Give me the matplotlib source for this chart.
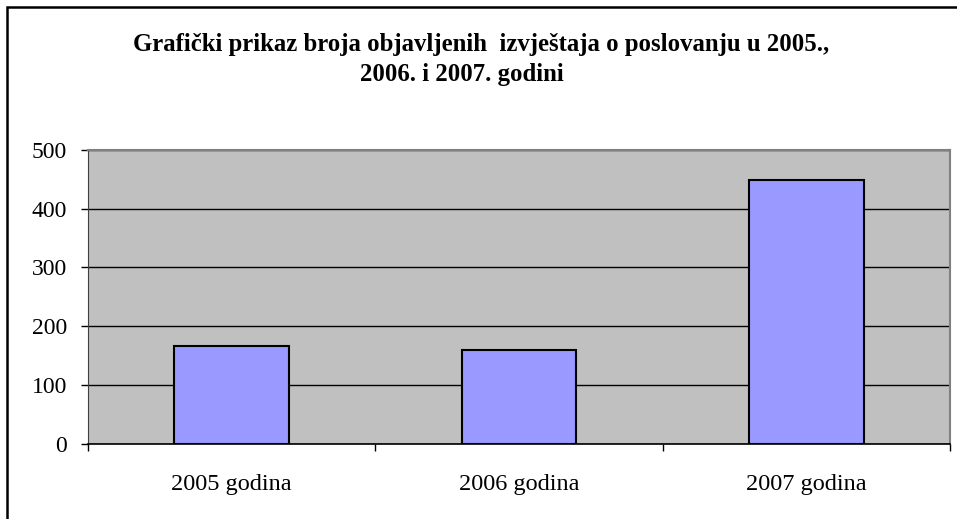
import numpy as np
import matplotlib.pyplot as plt
from matplotlib.patches import Rectangle

# values
categories = ['2005 godina', '2006 godina', '2007 godina']
reports = [166, 160, 449]
y_ticks = [0, 100, 200, 300, 400, 500]

plt.rcParams['font.family'] = ['Liberation Serif', 'DejaVu Serif']

W, H = 957, 519
fig = plt.figure(figsize=(W / 100, H / 100), dpi=100)

# outer chart border (right and bottom are cut off in the reference)
fig.patches.append(Rectangle((7.5 / W, -0.1), 1.2, 1 - 7.5 / H + 0.1,
                             transform=fig.transFigure, fill=False,
                             edgecolor='black', linewidth=1.8))

ax = fig.add_axes([88 / W, 1 - 443.7 / H, (950 - 88) / W, (443.7 - 150) / H])
ax.set_facecolor('#C0C0C0')

x = np.arange(len(categories))
ax.bar(x, reports, width=0.4, color='#9999FF', edgecolor='black',
       linewidth=1.5, zorder=3)

ax.set_xlim(-0.5, 2.5)
ax.set_ylim(0, 500)
ax.set_yticks(y_ticks)
ax.yaxis.grid(True, color='black', linewidth=1.0, zorder=1)
ax.set_axisbelow(True)

ax.set_xticks(x)
ax.set_xticklabels(categories)
ax.set_xticks([-0.5, 0.5, 1.5, 2.5], minor=True)
ax.tick_params(axis='x', which='major', length=0, pad=22, labelsize=17.5)
ax.tick_params(axis='x', which='minor', length=5, width=1, direction='out')
ax.tick_params(axis='y', length=5, width=1, direction='out', pad=10,
               labelsize=17)

for side in ['top', 'right']:
    ax.spines[side].set_color('#808080')
    ax.spines[side].set_linewidth(1.5)
ax.spines['left'].set_color('#404040')
ax.spines['bottom'].set_color('black')
ax.spines['bottom'].set_linewidth(1.2)

fig.text(481 / W, 1 - 45 / H,
         'Grafički prikaz broja objavljenih  izvještaja o poslovanju u 2005.,',
         ha='center', va='center', fontsize=17.8, fontweight='bold')
fig.text(462 / W, 1 - 75 / H, '2006. i 2007. godini',
         ha='center', va='center', fontsize=17.8, fontweight='bold')

fig.savefig('out.png', dpi=100)
